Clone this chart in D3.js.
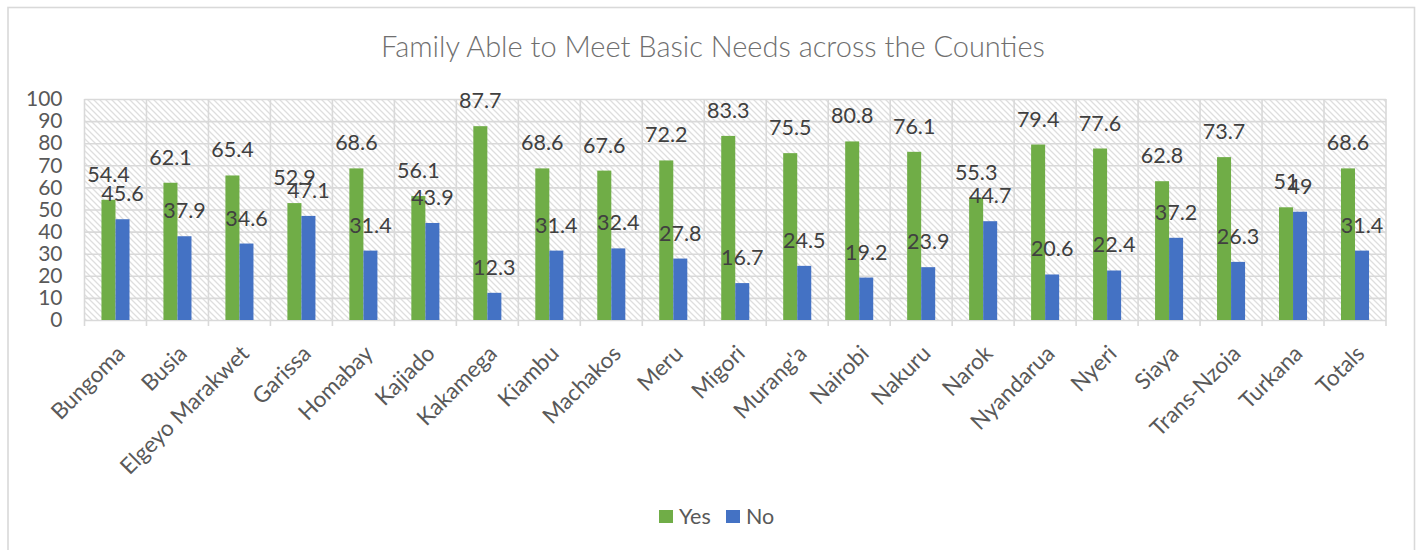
<!DOCTYPE html>
<html>
<head>
<meta charset="utf-8">
<script src="https://cdn.jsdelivr.net/npm/d3@7/dist/d3.min.js"></script>
<style>
  html, body { margin: 0; padding: 0; background: #fff; }
  svg { display: block; }
  text { font-family: Lato, "Open Sans", sans-serif; }
</style>
</head>
<body>
<div id="chart"></div>
<script>
// Counties surveyed, plus the overall total
const counties = ["Bungoma", "Busia", "Elgeyo Marakwet", "Garissa", "Homabay", "Kajiado",
  "Kakamega", "Kiambu", "Machakos", "Meru", "Migori", "Murang'a", "Nairobi", "Nakuru",
  "Narok", "Nyandarua", "Nyeri", "Siaya", "Trans-Nzoia", "Turkana", "Totals"];

// Percentage of families answering each way
const yesValues = [54.4, 62.1, 65.4, 52.9, 68.6, 56.1, 87.7, 68.6, 67.6, 72.2, 83.3,
  75.5, 80.8, 76.1, 55.3, 79.4, 77.6, 62.8, 73.7, 51, 68.6];
const noValues = [45.6, 37.9, 34.6, 47.1, 31.4, 43.9, 12.3, 31.4, 32.4, 27.8, 16.7,
  24.5, 19.2, 23.9, 44.7, 20.6, 22.4, 37.2, 26.3, 49, 31.4];

const seriesNames = ["Yes", "No"];
const seriesColors = ["#70ad47", "#4472c4"];
const yTicks = [0, 10, 20, 30, 40, 50, 60, 70, 80, 90, 100];
const titleText = "Family Able to Meet Basic Needs across the Counties";

const W = 1419, H = 550;
const plot = { left: 84.5, right: 1386, top: 99, bottom: 320 };
const gridColor = "#d9d9d9";

const svg = d3.select("#chart").append("svg")
  .attr("width", W).attr("height", H);

// Diagonal hatch used as the plot-area fill
const defs = svg.append("defs");
const pat = defs.append("pattern")
  .attr("id", "hatch")
  .attr("patternUnits", "userSpaceOnUse")
  .attr("width", 6).attr("height", 6);
pat.append("path")
  .attr("d", "M-1,-1 L7,7 M-7,-1 L1,7 M5,-1 L13,7")
  .attr("stroke", "#dedede").attr("stroke-width", 1.3);

// Outer chart border
svg.append("rect")
  .attr("x", 8).attr("y", 7.5)
  .attr("width", 1406.5).attr("height", 600)
  .attr("fill", "none").attr("stroke", gridColor).attr("stroke-width", 1.6);

// Scales
const x0 = d3.scaleBand().domain(counties).range([plot.left, plot.right]).padding(0);
const x1 = d3.scaleBand().domain(seriesNames).range([0, x0.bandwidth()])
  .paddingInner(0).paddingOuter(1.21);
const y = d3.scaleLinear().domain([0, 100]).range([plot.bottom, plot.top]);

// Plot area fill
svg.append("rect")
  .attr("x", plot.left).attr("y", plot.top)
  .attr("width", plot.right - plot.left).attr("height", plot.bottom - plot.top)
  .attr("fill", "url(#hatch)");

// Horizontal gridlines
svg.append("g")
  .attr("transform", `translate(${plot.left},0)`)
  .call(d3.axisRight(y).tickValues(yTicks).tickSize(plot.right - plot.left).tickFormat(""))
  .call(g => g.select(".domain").remove())
  .call(g => g.selectAll("line").attr("stroke", gridColor).attr("stroke-width", 1.6));

// Vertical gridlines at category boundaries, extending below the axis as ticks
const boundaries = counties.map(c => x0(c)).concat([plot.right]);
svg.append("g").selectAll("line").data(boundaries).join("line")
  .attr("x1", d => d).attr("x2", d => d)
  .attr("y1", plot.top).attr("y2", plot.bottom + 6)
  .attr("stroke", gridColor).attr("stroke-width", 1.6);

// Y axis labels
svg.append("g")
  .attr("transform", `translate(${plot.left},0)`)
  .call(d3.axisLeft(y).tickValues(yTicks).tickSize(0).tickPadding(22))
  .call(g => g.select(".domain").remove())
  .call(g => g.selectAll("text")
    .attr("fill", "#595959").style("font-size", "21px")
    .style("font-family", "Lato, 'Open Sans', sans-serif"));

// Bars
const rows = counties.map((c, i) => ({ county: c, values: [yesValues[i], noValues[i]] }));
const groups = svg.append("g").selectAll("g").data(rows).join("g")
  .attr("transform", d => `translate(${x0(d.county)},0)`);

groups.selectAll("rect")
  .data(d => d.values.map((v, k) => ({ key: seriesNames[k], value: v, color: seriesColors[k] })))
  .join("rect")
  .attr("x", d => x1(d.key))
  .attr("width", x1.bandwidth())
  .attr("y", d => y(d.value))
  .attr("height", d => y(0) - y(d.value))
  .attr("fill", d => d.color);

// Value labels above each bar
groups.selectAll("text.val")
  .data(d => d.values.map((v, k) => ({ key: seriesNames[k], value: v })))
  .join("text")
  .attr("class", "val")
  .attr("x", d => x1(d.key) + x1.bandwidth() / 2)
  .attr("y", d => y(d.value) - 18)
  .attr("text-anchor", "middle")
  .attr("fill", "#404040")
  .style("font-size", "21.5px")
  .text(d => d.value);

// Rotated category labels
svg.append("g").selectAll("text").data(counties).join("text")
  .attr("transform", d => `translate(${x0(d) + x0.bandwidth() / 2 + 11},355) rotate(-45)`)
  .attr("text-anchor", "end")
  .attr("fill", "#595959")
  .style("font-size", "22.5px")
  .text(d => d);

// Title
const title = svg.append("text")
  .attr("x", 713).attr("y", 57)
  .attr("text-anchor", "middle")
  .attr("fill", "#6f6f6f")
  .style("font-size", "26px")
  .style("font-weight", 300)
  .text(titleText);
const tw = title.node().getComputedTextLength();
if (tw > 0) title.style("font-size", (26 * 664 / tw).toFixed(2) + "px");

// Legend
const legend = svg.append("g").attr("transform", "translate(659,510)");
const legendX = [0, 67];
seriesNames.forEach((name, k) => {
  const item = legend.append("g").attr("transform", `translate(${legendX[k]},0)`);
  item.append("rect").attr("width", 14).attr("height", 13).attr("fill", seriesColors[k]);
  item.append("text").attr("x", 20).attr("y", 14)
    .attr("fill", "#595959").style("font-size", "21.5px").text(name);
});
</script>
</body>
</html>
